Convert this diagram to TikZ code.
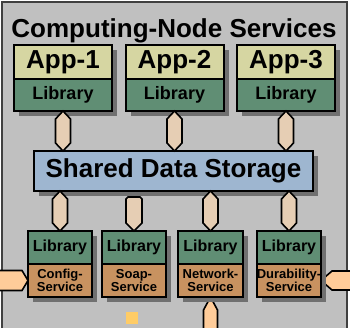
\documentclass[tikz,border=0pt]{standalone}
\usepackage{fontspec}
\setmainfont{Liberation Sans}
\usetikzlibrary{positioning, calc, shadows, backgrounds}

\definecolor{panelgray}{RGB}{192,192,192}
\definecolor{appkhaki}{RGB}{214,214,162}
\definecolor{libgreen}{RGB}{96,142,116}
\definecolor{svcbrown}{RGB}{200,146,96}
\definecolor{storeblue}{RGB}{158,182,208}
\definecolor{linktan}{RGB}{230,206,180}
\definecolor{feedpeach}{RGB}{255,204,153}
\definecolor{shadowgray}{RGB}{112,112,112}
\definecolor{dotyellow}{RGB}{255,204,102}

\begin{document}
\begin{tikzpicture}[
  x=1pt, y=-1pt,
  every node/.style={outer sep=0pt},
  boxline/.style={draw=black, line width=2pt, drop shadow={shadow xshift=5pt, shadow yshift=-5pt, fill=shadowgray, opacity=1}},
  apphead/.style={boxline, fill=appkhaki, minimum width=98pt, minimum height=34pt, font=\fontsize{26}{26}\selectfont\bfseries},
  applib/.style={boxline, fill=libgreen, minimum width=98pt, minimum height=32pt, font=\fontsize{18}{18}\selectfont\bfseries},
  store/.style={boxline, fill=storeblue, minimum width=279pt, minimum height=40pt, font=\fontsize{26}{26}\selectfont\bfseries},
  svclib/.style={boxline, fill=libgreen, minimum width=64pt, minimum height=33pt, font=\fontsize{16}{16}\selectfont\bfseries},
  svc/.style={boxline, fill=svcbrown, minimum width=64pt, minimum height=33pt, inner sep=0pt, align=center, font=\fontsize{13}{12.5}\selectfont\bfseries},
  hexlink/.style={draw=black, fill=linktan, line width=1.6pt,
    to path={let \p1=(\tikztostart), \p2=(\tikztotarget),
      \p3=($(\x1,\y1)!8pt!(\x1,\y2)$), \p4=($(\x1,\y2)!8pt!(\x1,\y1)$) in
      (\x1,\y1) -- (\x3+7.5pt,\y3) -- (\x4+7.5pt,\y4) -- (\x1,\y2) -- (\x4-7.5pt,\y4) -- (\x3-7.5pt,\y3) -- cycle}},
  droplink/.style={draw=black, fill=linktan, line width=1.6pt,
    to path={let \p1=(\tikztostart), \p2=(\tikztotarget) in
      (\x2-8pt,\y1-8pt) -- (\x2-6pt,\y1-6pt) -- (\x2+6pt,\y1-6pt) -- (\x2+8pt,\y1-8pt)
      -- (\x2+8pt,\y2+8pt) -- (\x2,\y2) -- (\x2-8pt,\y2+8pt) -- cycle}},
  feedright/.style={draw=black, fill=feedpeach, line width=1.6pt,
    to path={let \p1=(\tikztostart), \p2=(\tikztotarget) in
      (\x1,\y2+10pt) -- (\x2-6pt,\y2+10pt) -- (\x2,\y2) -- (\x2-6pt,\y2-10pt) -- (\x1,\y2-10pt)}},
  feedleft/.style={draw=black, fill=feedpeach, line width=1.6pt,
    to path={let \p1=(\tikztostart), \p2=(\tikztotarget) in
      (\x1,\y2+9.5pt) -- (\x2+11pt,\y2+9.5pt) -- (\x2,\y2) -- (\x2+11pt,\y2-9.5pt) -- (\x1,\y2-9.5pt)}},
  feedup/.style={draw=black, fill=feedpeach, line width=1.6pt,
    to path={let \p1=(\tikztostart), \p2=(\tikztotarget) in
      (\x2+7pt,\y1) -- (\x2+7pt,\y2-13pt) -- (\x2,\y2) -- (\x2-7pt,\y2-13pt) -- (\x2-7pt,\y1)}}
]
\useasboundingbox (0,0) rectangle (350,327);

% Panel
\begin{scope}[on background layer]
  \draw[draw=black!75, line width=1.2pt, fill=panelgray] (2,2) rectangle (347,340);
\end{scope}

\node (title) at (174,37) [anchor=base, font=\fontsize{26}{26}\selectfont\bfseries] {Computing-Node Services};

% Applications
\node (app1) [apphead] at (63,62) {App-1};
\node (lib1) [applib, below=0pt of app1] {Library};
\node (app2) [apphead] at (174.5,62) {App-2};
\node (lib2) [applib, below=0pt of app2] {Library};
\node (app3) [apphead] at (286,62) {App-3};
\node (lib3) [applib, below=0pt of app3] {Library};

% Storage
\node (store) [store] at (173.5,171) {Shared Data Storage};

% Services
\node (cfglib) [svclib] at (60,247.5) {Library};
\node (cfg) [svc, below=0pt of cfglib] {Config-\\Service};
\node (soaplib) [svclib] at (134,247.5) {Library};
\node (soap) [svc, below=0pt of soaplib] {Soap-\\Service};
\node (netlib) [svclib, minimum width=65pt] at (210.5,247.5) {Library};
\node (net) [svc, minimum width=65pt, below=0pt of netlib] {Network-\\Service};
\node (durlib) [svclib] at (289,247.5) {Library};
\node (dur) [svc, below=0pt of durlib] {\makebox[0pt]{Durability-}\\Service};

\node (dot) [fill=dotyellow, minimum size=12pt, inner sep=0pt] at (132,318) {};

% Links to storage
\draw[hexlink] (lib1.south) to (store.north);
\draw[hexlink] (lib2.south) to (store.north);
\draw[hexlink] (lib3.south) to (store.north);
\draw[hexlink] (cfglib.north) to (store.south);
\draw[droplink] (store.south) to (soaplib.north);
\draw[hexlink] (netlib.north) to (store.south);
\draw[hexlink] (durlib.north) to (store.south);

% Outside feeds
\coordinate (inW) at (0,280);
\coordinate (inE) at (351,280);
\coordinate (inS) at (209,330);
\begin{scope}[on background layer]
  \draw[feedright] (inW) to (cfg.west);
  \draw[feedleft] (inE) to (dur.east);
  \draw[feedup] (inS) to (net.south);
\end{scope}
\end{tikzpicture}
\end{document}
